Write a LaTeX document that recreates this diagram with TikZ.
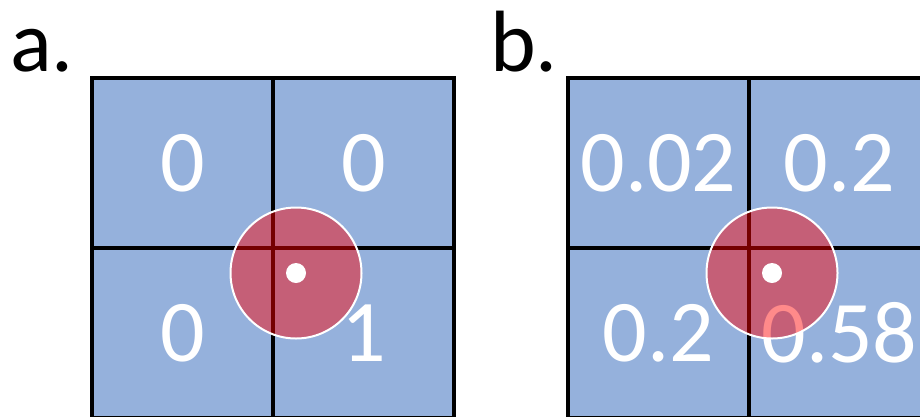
\documentclass[tikz,border=0pt]{standalone}
\usepackage{fontspec}
\setmainfont{Carlito}
\definecolor{cellblue}{RGB}{149,177,220}
\begin{document}
\begin{tikzpicture}[x=1pt,y=-1pt,
  cell/.style={rectangle,draw=black,fill=cellblue,line width=4pt,
    minimum width=181pt,minimum height=170pt,inner sep=0pt,outer sep=0pt,
    text=white,font=\fontsize{88}{88}\selectfont},
  lbl/.style={anchor=base west,inner sep=0pt,font=\fontsize{87}{87}\selectfont},
  spot/.style={circle,draw=white,line width=2pt,fill=red,fill opacity=0.46,
    minimum size=131pt,inner sep=0pt},
  dot/.style={circle,fill=white,minimum size=20pt,inner sep=0pt}]
\useasboundingbox (0,0) rectangle (920,416);
\clip (0,0) rectangle (920,416);
% panel a
\node[lbl] (la) at (10,71) {a.};
\node[cell] (a11) at (182.5,163) {0};
\node[cell] (a12) at (363.5,163) {0};
\node[cell] (a21) at (182.5,333) {0};
\node[cell] (a22) at (363.5,333) {1};
\node[spot] (ca) at (296,273) {};
\node[dot] (da) at (296,273) {};
% panel b
\node[lbl] (lb) at (490,71) {b.};
\node[cell] (b11) at (658.5,163) {0.02};
\node[cell] (b12) at (839.5,163) {0.2};
\node[cell] (b21) at (658.5,333) {0.2};
\node[cell] (b22) at (839.5,333) {0.58};
\node[spot] (cb) at (772,273) {};
\node[dot] (db) at (772,273) {};
\end{tikzpicture}
\end{document}
